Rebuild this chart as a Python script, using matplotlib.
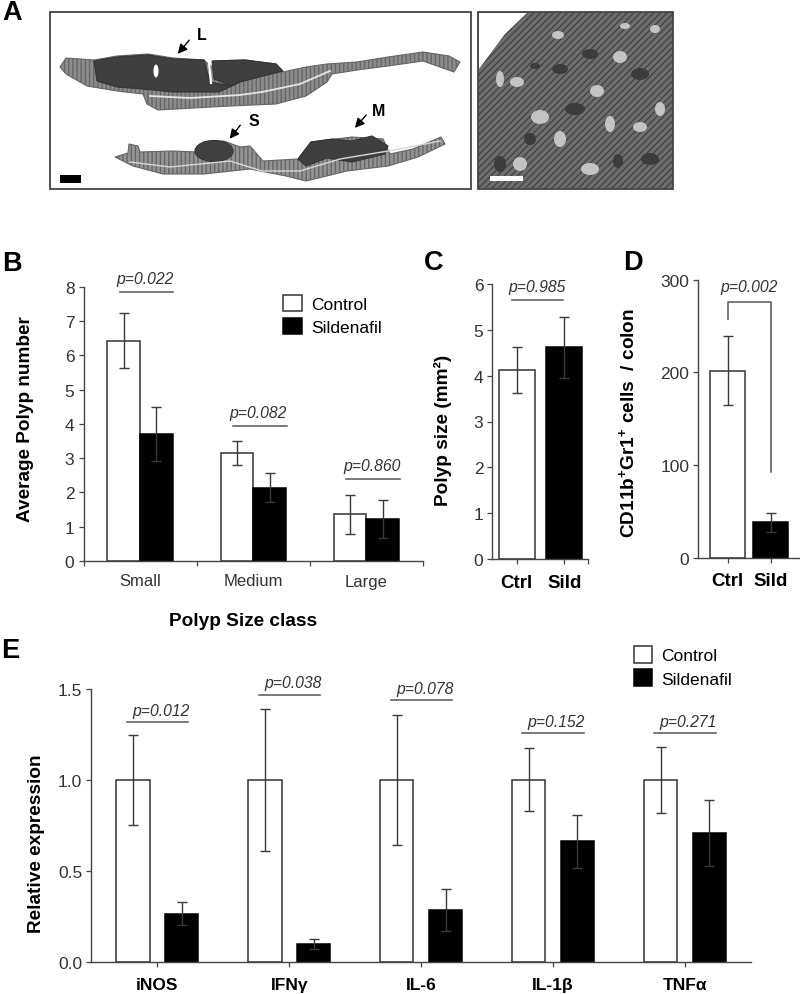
import numpy as np
import matplotlib
matplotlib.use("Agg")
import matplotlib.pyplot as plt
from matplotlib.patches import Polygon, Ellipse, Rectangle

plt.rcParams["font.family"] = ["Liberation Sans", "DejaVu Sans"]
plt.rcParams["mathtext.fontset"] = "custom"
plt.rcParams["mathtext.rm"] = "Liberation Sans:bold"
plt.rcParams["mathtext.bf"] = "Liberation Sans:bold"
plt.rcParams["mathtext.default"] = "regular"

W, H = 800, 995
AXC = "#444444"
TXT = "#333333"

# panel B
b_groups = ["Small", "Medium", "Large"]
b_ctrl = [6.42, 3.14, 1.36]
b_sild = [3.71, 2.14, 1.22]
b_ctrl_err = [0.80, 0.35, 0.57]
b_sild_err = [0.78, 0.43, 0.56]
b_p = ["p=0.022", "p=0.082", "p=0.860"]
b_p_y = [7.85, 3.95, 2.38]

# panel C
c_groups = ["Ctrl", "Sild"]
c_vals = [4.12, 4.62]
c_err = [0.50, 0.66]

# panel D
d_groups = ["Ctrl", "Sild"]
d_vals = [202, 38]
d_err = [37.5, 10.5]

# panel E
e_groups = ["iNOS", "IFNγ", "IL-6", "IL-1β", "TNFα"]
e_ctrl = [1.0, 1.0, 1.0, 1.0, 1.0]
e_sild = [0.265, 0.10, 0.285, 0.662, 0.708]
e_ctrl_err = [0.247, 0.39, 0.356, 0.171, 0.181]
e_sild_err = [0.062, 0.026, 0.113, 0.145, 0.18]
e_p = ["p=0.012", "p=0.038", "p=0.078", "p=0.152", "p=0.271"]
e_p_y = [1.314, 1.464, 1.436, 1.255, 1.255]

# panel A, hand traced outlines of the tissue (pixels)
upper_tissue = [(60, 68), (66, 59), (94, 61), (117, 57), (148, 55), (173, 59), (204, 61), (212, 68),
                (214, 62), (245, 61), (276, 65), (283, 73), (306, 68), (327, 65), (357, 63), (388, 58),
                (423, 53), (449, 57), (460, 63), (454, 73), (423, 62), (388, 67), (357, 71), (332, 75),
                (327, 83), (306, 97), (276, 105), (230, 107), (194, 109), (158, 111), (147, 105),
                (143, 95), (117, 92), (87, 87), (66, 75)]
upper_polyp = [(94, 62), (117, 58), (148, 56), (173, 60), (204, 61), (210, 83), (232, 87), (219, 93),
               (173, 93), (143, 90), (117, 88), (97, 82)]
upper_polyp2 = [(212, 62), (245, 61), (276, 65), (283, 72), (240, 83), (232, 87), (214, 80)]
lower_tissue = [(115, 158), (128, 154), (129, 145), (138, 147), (140, 153), (173, 152), (196, 153),
                (204, 143), (224, 142), (240, 148), (250, 147), (263, 162), (298, 160), (311, 143),
                (352, 138), (383, 140), (390, 155), (413, 150), (441, 138), (445, 145), (418, 158),
                (388, 167), (347, 172), (306, 182), (286, 177), (250, 170), (204, 175), (163, 175),
                (133, 167)]
lower_polyp = [(298, 160), (311, 143), (332, 140), (352, 142), (372, 137), (388, 147), (385, 155),
               (352, 163), (327, 159), (306, 167)]
light_spots = [(517, 83, 7, 5), (620, 58, 7, 6), (558, 36, 6, 4), (540, 118, 9, 7), (597, 92, 7, 6),
               (640, 128, 7, 5), (500, 80, 4, 8), (560, 140, 6, 8), (590, 170, 9, 6), (660, 110, 5, 7),
               (625, 27, 5, 3), (520, 165, 7, 7), (610, 125, 5, 8), (655, 30, 5, 4)]
dark_spots = [(535, 67, 5, 3), (618, 162, 5, 7), (500, 165, 6, 8), (575, 110, 10, 6), (640, 75, 9, 6),
              (590, 55, 8, 5), (650, 160, 9, 6), (530, 140, 6, 6), (560, 70, 8, 5)]
arrows = [("L", (191, 39), (176, 57), (202, 36)),
          ("S", (242, 124), (228, 142), (254, 121)),
          ("M", (368, 114), (353, 131), (379, 112))]
panel_letters = [("A", 2, 20), ("B", 2, 271), ("C", 424, 270), ("D", 623, 270), ("E", 1, 658)]


def px_axes(left, top, right, bottom):
    return fig.add_axes([left / W, 1 - bottom / H, (right - left) / W, (bottom - top) / H])


def style(ax):
    for s in ["top", "right"]:
        ax.spines[s].set_visible(False)
    for s in ["left", "bottom"]:
        ax.spines[s].set_color(AXC)
        ax.spines[s].set_linewidth(1.0)
    ax.tick_params(axis="both", length=3.5, width=0.9, color=AXC, labelsize=12.5, labelcolor=TXT, pad=3)
    ax.patch.set_alpha(0)


def p_mark(ax, x0, x1, y, label, dx=0, up=6.5, size=11.3):
    ax.plot([x0, x1], [y, y], color="#555555", lw=1.1, clip_on=False)
    ax.annotate(label, xy=((x0 + x1) / 2, y), xytext=(dx, up), textcoords="offset points",
                ha="center", va="baseline", style="italic", fontsize=size, color=TXT,
                annotation_clip=False)


fig = plt.figure(figsize=(W / 100, H / 100), dpi=100)

# overlay for the micrographs and panel letters
bg = fig.add_axes([0, 0, 1, 1])
bg.set_xlim(0, W)
bg.set_ylim(H, 0)
bg.axis("off")

bg.add_patch(Rectangle((50, 13), 421, 177, fc="white", ec="#444444", lw=1.3))
for pts, fc in [(upper_tissue, "#8c8c8c"), (lower_tissue, "#939393")]:
    bg.add_patch(Polygon(pts, closed=True, fc=fc, ec="#666666", lw=0.8, hatch="||||"))
for pts in [upper_polyp, upper_polyp2, lower_polyp]:
    bg.add_patch(Polygon(pts, closed=True, fc="#3f3f3f", ec="#333333", lw=0.8))
bg.add_patch(Ellipse((214, 152), 38, 21, fc="#404040", ec="#333333", lw=0.8))
bg.add_patch(Ellipse((156, 72), 5, 13, fc="white", ec="none"))
bg.plot([209, 211], [63, 84], color="white", lw=1.6)
bg.plot([150, 190, 240, 262, 300, 330], [97, 99, 96, 93, 85, 72], color="#e6e6e6", lw=1.3)
bg.plot([130, 170, 230, 262, 300, 340, 400, 440], [163, 168, 162, 172, 172, 160, 150, 142],
        color="#d8d8d8", lw=1.0)
bg.add_patch(Rectangle((60, 176), 21, 8, fc="black", ec="none"))

bg.add_patch(Rectangle((478, 13), 195, 177, fc="#6e6e6e", ec="#444444", lw=1.3, hatch="/////"))
for x, y, a, b in dark_spots:
    bg.add_patch(Ellipse((x, y), 2 * a, 2 * b, fc="#3c3c3c", ec="none"))
for x, y, a, b in light_spots:
    bg.add_patch(Ellipse((x, y), 2 * a, 2 * b, fc="#c4c4c4", ec="none"))
bg.add_patch(Polygon([(479, 14), (527, 14), (505, 35), (490, 55), (479, 70)], closed=True, fc="white", ec="none"))
bg.add_patch(Rectangle((490, 177), 33, 5, fc="white", ec="none"))

for name, start, end, pos in arrows:
    bg.annotate("", xy=end, xytext=start, arrowprops=dict(arrowstyle="-|>", color="black", lw=1, mutation_scale=14))
    bg.text(pos[0], pos[1], name, fontsize=11.5, fontweight="bold", ha="center", va="center")
for name, x, y in panel_letters:
    bg.text(x, y, name, fontsize=19.5, fontweight="bold", ha="left", va="baseline")

# B
ax = px_axes(83.5, 287.7, 423, 562)
style(ax)
x = np.arange(len(b_groups))
bw = 0.288
b1 = ax.bar(x - bw / 2, b_ctrl, bw, color="white", edgecolor="#333333", lw=1.1, yerr=b_ctrl_err,
            ecolor="#3a3a3a", error_kw=dict(capsize=3.5, lw=1, capthick=1))
b2 = ax.bar(x + bw / 2, b_sild, bw, color="black", edgecolor="black", lw=1.1, yerr=b_sild_err,
            ecolor="#3a3a3a", error_kw=dict(capsize=3.5, lw=1, capthick=1))
ax.set_xlim(-0.5, 2.5)
ax.set_ylim(0, 8)
ax.set_xticks([-0.5, 0.5, 1.5, 2.5])
ax.set_xticklabels([])
ax.set_xticks(x, minor=True)
ax.set_xticklabels(b_groups, minor=True)
ax.tick_params(axis="x", which="minor", length=0, labelsize=12, labelcolor=TXT, pad=9)
ax.set_yticks(range(9))
ax.set_xlabel("Polyp Size class", fontsize=13.7, fontweight="bold")
ax.xaxis.set_label_coords(0.47, -0.187)
ax.set_ylabel("Average Polyp number", fontsize=13.7, fontweight="bold")
ax.yaxis.set_label_coords(-0.147, 0.52)
for g, lab, yy in zip(x, b_p, b_p_y):
    p_mark(ax, g - 0.177, g + 0.295, yy, lab, dx=-1)
ax.legend([b1, b2], ["Control", "Sildenafil"], loc="upper left", bbox_to_anchor=(0.587, 0.97),
          frameon=False, fontsize=12.5, handlelength=1.13, handleheight=1.03, labelspacing=0.38,
          handletextpad=0.5, borderpad=0, borderaxespad=0)

# C
ax = px_axes(492.3, 285, 588, 560)
style(ax)
ax.bar([0, 1], c_vals, 0.75, color=["white", "black"], edgecolor=["#333333", "black"], lw=1.1, yerr=c_err,
       ecolor="#3a3a3a", error_kw=dict(capsize=3.5, lw=1, capthick=1))
ax.set_xlim(-0.513, 1.498)
ax.set_ylim(0, 6)
ax.set_xticks([0, 1, 1.498])
ax.set_xticklabels(c_groups + [""], fontsize=13.5, fontweight="bold", color="black")
ax.tick_params(axis="x", pad=7)
ax.set_yticks(range(7))
ax.set_ylabel("Polyp size (mm²)", fontsize=13.7, fontweight="bold")
ax.yaxis.set_label_coords(-0.42, 0.47)
p_mark(ax, -0.105, 0.98, 5.65, "p=0.985", dx=0)

# D
ax = px_axes(698.3, 280.7, 800, 558.7)
style(ax)
ax.bar([0, 1], d_vals, 0.82, color=["white", "black"], edgecolor=["#333333", "black"], lw=1.1, yerr=d_err,
       ecolor="#3a3a3a", error_kw=dict(capsize=3.5, lw=1, capthick=1))
ax.set_xlim(-0.683, 1.68)
ax.set_ylim(0, 300)
ax.set_xticks([0, 1])
ax.set_xticklabels(d_groups, fontsize=13.5, fontweight="bold", color="black")
ax.tick_params(axis="x", pad=7)
ax.set_yticks([0, 100, 200, 300])
ax.set_ylabel(r"CD11b$^{+}$Gr1$^{+}$ cells  / colon", fontsize=13.7, fontweight="bold")
ax.yaxis.set_label_coords(-0.59, 0.487)
ax.plot([0, 0, 1, 1], [258, 276, 276, 92], color="#555555", lw=1.1, clip_on=False)
ax.annotate("p=0.002", xy=(0.5, 276), xytext=(0, 8), textcoords="offset points", ha="center", va="baseline",
            style="italic", fontsize=11.3, color=TXT, annotation_clip=False)

# E
ax = px_axes(91.3, 689.5, 751, 963)
style(ax)
x = np.arange(len(e_groups))
bw = 0.254
off = 0.185
b1 = ax.bar(x - off, e_ctrl, bw, color="white", edgecolor="#333333", lw=1.1, yerr=e_ctrl_err,
            ecolor="#3a3a3a", error_kw=dict(capsize=3.5, lw=1, capthick=1))
b2 = ax.bar(x + off, e_sild, bw, color="black", edgecolor="black", lw=1.1, yerr=e_sild_err,
            ecolor="#3a3a3a", error_kw=dict(capsize=3.5, lw=1, capthick=1))
ax.set_xlim(-0.5, 4.5)
ax.set_ylim(0, 1.5)
ax.set_xticks(x)
ax.set_xticklabels(e_groups, fontsize=12.5, fontweight="bold", color="black")
ax.tick_params(axis="x", pad=7)
ax.set_yticks([0, 0.5, 1.0, 1.5])
ax.set_yticklabels(["0.0", "0.5", "1.0", "1.5"])
ax.set_ylabel("Relative expression", fontsize=13.7, fontweight="bold")
ax.yaxis.set_label_coords(-0.07, 0.435)
for g, lab, yy in zip(x, e_p, e_p_y):
    p_mark(ax, g - 0.232, g + 0.232, yy, lab, dx=2.5, up=5.5)
ax.legend([b1, b2], ["Control", "Sildenafil"], loc="upper left", bbox_to_anchor=(0.822, 1.155),
          frameon=False, fontsize=12.5, handlelength=1.07, handleheight=1.1, labelspacing=0.35,
          handletextpad=0.5, borderpad=0, borderaxespad=0)

fig.savefig("out.png", dpi=100)
